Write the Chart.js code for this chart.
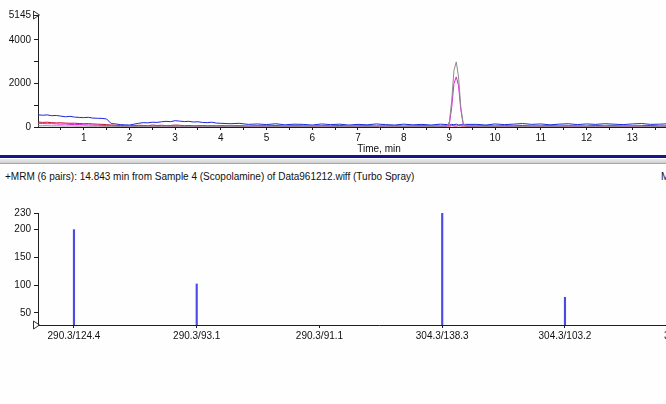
<!DOCTYPE html>
<html>
<head>
<meta charset="utf-8">
<script src="https://cdn.jsdelivr.net/npm/chart.js@4/dist/chart.umd.min.js"></script>
<style>
    body { margin: 0; width: 666px; height: 404px; overflow: hidden; background: #fefefe; position: relative; font-family: "Liberation Sans", Arial, sans-serif; }
    .box { position: absolute; left: 0; width: 720px; }
    #topBox { top: 0; height: 155px; }
    #bottomBox { top: 200px; height: 145px; }
    .navy { position: absolute; left: 0; top: 155px; width: 666px; height: 3px; background: #15158c; }
    .grey { position: absolute; left: 0; top: 159px; width: 666px; height: 4px; background: linear-gradient(#ececec, #cfcfcf); border-bottom: 1px solid #a8a8a8; }
    .info { position: absolute; top: 171px; font-size: 10px; color: #111; white-space: nowrap; }
</style>
</head>
<body>
<div class="box" id="topBox"><canvas id="xicChart" width="720" height="155"></canvas></div>
<div class="navy"></div>
<div class="grey"></div>
<div class="info" style="left:5px">+MRM (6 pairs): 14.843 min from Sample 4 (Scopolamine) of Data961212.wiff (Turbo Spray)</div>
<div class="info" style="left:661px">Max. 230.0 cps.</div>
<div class="box" id="bottomBox"><canvas id="mrmChart" width="720" height="145"></canvas></div>

<script>
// Chromatogram (top) - time in minutes, intensity in cps
const times = [
    0.0, 0.1, 0.2, 0.3, 0.4, 0.5, 0.6, 0.7, 0.8, 0.9,
    1.0, 1.1, 1.2, 1.3, 1.4, 1.5, 1.6, 1.7, 1.8, 1.9,
    2.0, 2.1, 2.2, 2.3, 2.4, 2.5, 2.6, 2.7, 2.8, 2.9,
    3.0, 3.1, 3.2, 3.3, 3.4, 3.5, 3.6, 3.7, 3.8, 3.9, 4.0,
    4.2, 4.4, 4.6, 4.8, 5.0, 5.2, 5.4, 5.6, 5.8, 6.0, 6.2, 6.4,
    6.6, 6.8, 7.0, 7.2, 7.4, 7.6, 7.8, 8.0, 8.2, 8.4, 8.6, 8.8,
    8.95, 9.0, 9.05, 9.1, 9.15, 9.2, 9.25, 9.3, 9.35,
    9.6, 9.8, 10.0, 10.2, 10.4, 10.6, 10.8, 11.0, 11.2, 11.4, 11.6, 11.8, 12.0,
    12.2, 12.4, 12.6, 12.8, 13.0, 13.2, 13.4, 13.6, 13.8, 14.0, 14.2, 14.4, 14.6, 14.8
];

const blueTrace = [
    560, 540, 555, 520, 530, 500, 470, 490, 455, 440,
    430, 445, 410, 400, 395, 370, 160, 140, 110, 100,
    90, 130, 170, 200, 190, 220, 210, 240, 260, 245,
    290, 270, 250, 260, 230, 240, 210, 200, 220, 180, 170,
    150, 170, 120, 140, 110, 150, 100, 130, 120, 90, 140, 110,
    130, 90, 120, 100, 140, 110, 90, 130, 100, 120, 90, 130,
    110, 90, 120, 100, 130, 90, 110, 100, 120,
    120, 90, 140, 110, 130, 160, 120, 140, 100, 130, 150, 110, 140,
    120, 150, 130, 110, 140, 160, 120, 130, 150, 110, 140, 130, 120, 150
];

const redTrace = [
    230, 210, 220, 200, 190, 195, 180, 170, 175, 160,
    150, 155, 140, 130, 120, 110, 90, 80, 70, 60,
    70, 60, 80, 70, 60, 90, 70, 80, 60, 70,
    90, 80, 60, 70, 50, 60, 70, 50, 60, 50, 60,
    50, 60, 40, 60, 50, 70, 40, 60, 50, 40, 60, 50,
    70, 40, 50, 60, 40, 50, 60, 40, 50, 60, 50, 40,
    50, 40, 60, 50, 40, 60, 50, 40, 50,
    50, 60, 40, 60, 50, 70, 40, 50, 60, 40, 60, 50, 40,
    70, 50, 60, 40, 50, 60, 70, 40, 50, 60, 40, 50, 60, 50
];

const magentaTrace = [
    170, 160, 150, 155, 140, 130, 135, 120, 110, 115,
    100, 95, 90, 80, 75, 70, 60, 50, 55, 45,
    50, 40, 55, 45, 50, 40, 50, 45, 55, 40,
    50, 45, 40, 50, 45, 40, 50, 40, 45, 40, 50,
    40, 45, 35, 40, 50, 35, 40, 45, 35, 40, 45, 40,
    35, 45, 40, 35, 40, 45, 40, 35, 45, 40, 35, 40,
    40, 150, 900, 2000, 2300, 1900, 800, 150, 30,
    40, 35, 45, 40, 35, 40, 45, 35, 40, 45, 40, 35, 40,
    45, 35, 40, 45, 40, 35, 40, 45, 35, 40, 45, 40, 35, 40
];

const greyTrace = [
    60, 55, 60, 50, 55, 50, 45, 50, 45, 40,
    45, 40, 35, 40, 35, 30, 35, 30, 25, 30,
    35, 30, 25, 30, 35, 30, 25, 30, 35, 30,
    25, 30, 30, 25, 30, 35, 30, 25, 30, 30, 25,
    30, 25, 30, 35, 30, 25, 30, 30, 25, 30, 35, 30,
    25, 30, 30, 25, 30, 35, 30, 25, 30, 30, 25, 30,
    40, 250, 1200, 2600, 2990, 2300, 900, 200, 40,
    30, 25, 30, 35, 30, 25, 30, 30, 25, 30, 35, 30, 25,
    30, 30, 25, 30, 35, 30, 25, 30, 30, 25, 30, 35, 30, 25
];

const timeLabels = [1, 2, 3, 4, 5, 6, 7, 8, 9, 10, 11, 12, 13, 14];
const intensityTicks = [0, 1000, 2000, 3000, 4000, 5145];
const intensityLabels = [0, 2000, 4000, 5145];

// MRM spectrum (bottom)
const transitions = ['290.3/124.4', '290.3/93.1', '290.3/91.1', '304.3/138.3', '304.3/103.2', '304.3/91.1'];
const transitionCps = [200, 102, 15, 230, 78, 60];
const cpsTicks = [50, 100, 150, 200, 230];

const tickFont = { family: 'Liberation Sans', size: 10 };
const axisColor = '#1e1e1e';

// small open triangle at the top / origin of the y axis, like the Analyst marker
function markerPlugin(yValue) {
    return {
        id: 'marker',
        afterDraw(chart) {
            const ctx = chart.ctx;
            const y = chart.scales.y.getPixelForValue(yValue);
            const x = chart.chartArea.left;
            ctx.save();
            ctx.strokeStyle = '#333';
            ctx.lineWidth = 1;
            ctx.beginPath();
            ctx.moveTo(x - 4.5, y - 4);
            ctx.lineTo(x + 1.5, y);
            ctx.lineTo(x - 4.5, y + 4);
            ctx.closePath();
            ctx.stroke();
            ctx.restore();
        }
    };
}

function traceData(values) {
    return times.map((t, i) => ({ x: t, y: values[i] }));
}

function lineSet(values, color) {
    return {
        data: traceData(values),
        borderColor: color,
        borderWidth: 1,
        pointRadius: 0,
        tension: 0
    };
}

const xicChart = new Chart(document.getElementById('xicChart'), {
    type: 'line',
    data: {
        datasets: [
            lineSet(greyTrace, '#8c8c8c'),
            lineSet(magentaTrace, '#e01ed8'),
            lineSet(redTrace, '#c8103c'),
            lineSet(blueTrace, '#2028d8')
        ]
    },
    options: {
        responsive: false,
        animation: false,
        devicePixelRatio: 1,
        layout: { padding: { top: 15, left: 0, right: 0, bottom: 0 } },
        plugins: { legend: { display: false }, tooltip: { enabled: false } },
        scales: {
            x: {
                type: 'linear',
                min: 0,
                max: 14.92,
                afterFit: s => { s.height = 28; },
                afterBuildTicks: s => {
                    const ticks = [];
                    timeLabels.forEach(v => { ticks.push({ value: v - 0.5 }, { value: v }); });
                    s.ticks = ticks;
                },
                grid: { drawOnChartArea: false, tickLength: 3, color: axisColor },
                border: { color: axisColor, width: 1 },
                ticks: {
                    padding: 2,
                    maxRotation: 0,
                    autoSkip: false,
                    color: '#111',
                    font: tickFont,
                    callback: v => timeLabels.includes(v) ? String(v) : ''
                },
                title: { display: true, text: 'Time, min', color: '#111', font: tickFont, padding: { top: 0, bottom: 0 } }
            },
            y: {
                min: 0,
                max: 5145,
                afterFit: s => { s.width = 38; },
                afterBuildTicks: s => { s.ticks = intensityTicks.map(v => ({ value: v })); },
                grid: { drawOnChartArea: false, tickLength: 4, color: axisColor },
                border: { color: axisColor, width: 1 },
                ticks: {
                    padding: 3,
                    color: '#111',
                    font: tickFont,
                    callback: v => intensityLabels.includes(v) ? String(v) : ''
                }
            }
        }
    },
    plugins: [markerPlugin(5145)]
});

const mrmChart = new Chart(document.getElementById('mrmChart'), {
    type: 'bar',
    data: {
        datasets: [{
            data: transitions.map((t, i) => ({ x: i, y: transitionCps[i] })),
            backgroundColor: '#4c4ce4',
            borderWidth: 0,
            barThickness: 1.5
        }]
    },
    options: {
        responsive: false,
        animation: false,
        devicePixelRatio: 1,
        layout: { padding: { top: 13, left: 0, right: 0, bottom: 0 } },
        plugins: { legend: { display: false }, tooltip: { enabled: false } },
        scales: {
            x: {
                type: 'linear',
                offset: false,
                min: -0.293,
                max: 5.263,
                afterFit: s => { s.height = 20; },
                afterBuildTicks: s => { s.ticks = transitions.map((t, i) => ({ value: i })); },
                grid: { drawOnChartArea: false, tickLength: 3, color: axisColor, offset: false },
                border: { color: axisColor, width: 1 },
                ticks: {
                    padding: 2,
                    maxRotation: 0,
                    autoSkip: false,
                    color: '#111',
                    font: tickFont,
                    callback: v => transitions[v] ?? ''
                }
            },
            y: {
                min: 28,
                max: 230,
                afterFit: s => { s.width = 38; },
                afterBuildTicks: s => { s.ticks = cpsTicks.map(v => ({ value: v })); },
                grid: { drawOnChartArea: false, tickLength: 4, color: axisColor },
                border: { color: axisColor, width: 1 },
                ticks: { padding: 3, color: '#111', font: tickFont }
            }
        }
    },
    plugins: [markerPlugin(28)]
});
</script>
</body>
</html>
